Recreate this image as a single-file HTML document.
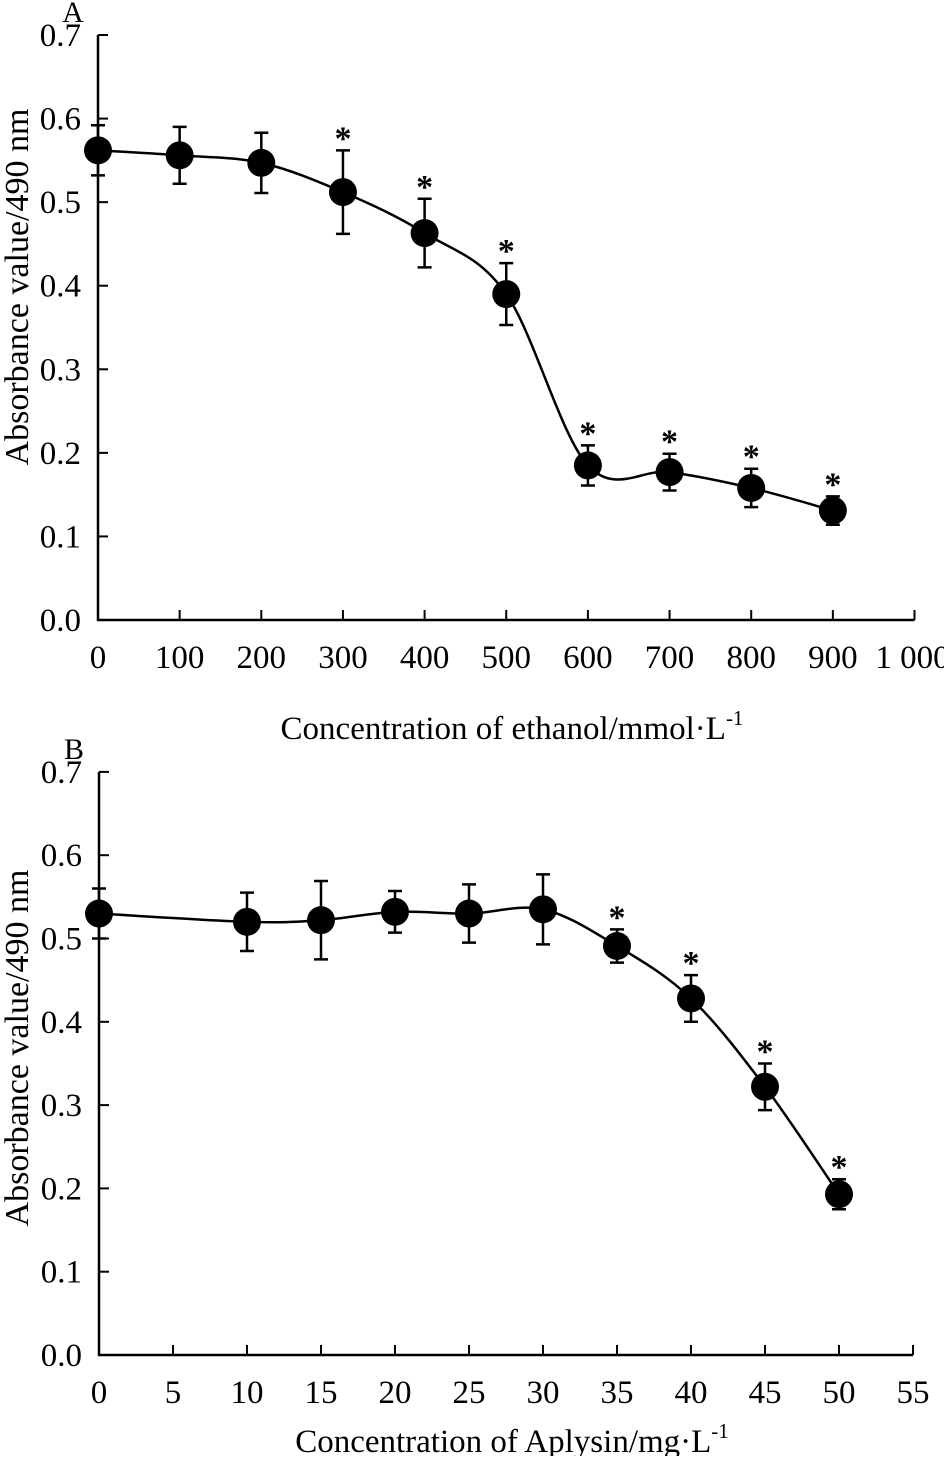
<!DOCTYPE html>
<html><head><meta charset="utf-8"><style>
html,body{margin:0;padding:0;background:#fff}
svg text{font-family:"Liberation Serif",serif;fill:#000}
</style></head><body>
<svg id="svg" width="944" height="1456" xmlns="http://www.w3.org/2000/svg"></svg>
<script>
const aX=[0,100,200,300,400,500,600,700,800,900];
const aY=[0.562,0.556,0.547,0.512,0.463,0.390,0.185,0.177,0.158,0.131];
const aErr=[0.030,0.034,0.036,0.050,0.041,0.037,0.024,0.022,0.023,0.017];
const aStar=[0,0,0,1,1,1,1,1,1,1];
const aXTicks=[0,100,200,300,400,500,600,700,800,900,1000];
const aXTickLabels=["0","100","200","300","400","500","600","700","800","900","1 000"];
const bX=[0,10,15,20,25,30,35,40,45,50];
const bY=[0.530,0.520,0.522,0.532,0.530,0.535,0.491,0.428,0.322,0.193];
const bErr=[0.030,0.035,0.047,0.025,0.035,0.042,0.020,0.028,0.028,0.018];
const bStar=[0,0,0,0,0,0,1,1,1,1];
const bXTicks=[0,5,10,15,20,25,30,35,40,45,50,55];
const yTicks=[0,0.1,0.2,0.3,0.4,0.5,0.6,0.7];

const NS="http://www.w3.org/2000/svg";
const svg=document.getElementById('svg');
function mk(tag,attrs,parent){const e=document.createElementNS(NS,tag);for(const k in attrs)e.setAttribute(k,attrs[k]);(parent||svg).appendChild(e);return e;}

function panel(cfg){
  const g=mk('g',{});
  
  
  const xs=v=>cfg.x0+(v-cfg.xmin)*cfg.xpx;
  const ys=v=>cfg.y0-v*cfg.ypx;
  const top=ys(0.7), right=xs(cfg.xmax);
  const ax=mk('path',{d:`M${cfg.x0},${top}V${cfg.y0}H${right}`,fill:'none',stroke:'#000','stroke-width':2.5},g);
  
  
  yTicks.forEach(t=>{
    const y=ys(t);
    const tk=mk('line',{x1:cfg.x0,x2:cfg.x0+10,y1:y,y2:y,stroke:'#000','stroke-width':2},g);
    
    
    const tl=mk('text',{x:cfg.x0-17,y:y+11,'text-anchor':'end','font-size':33},g);
    tl.textContent=t.toFixed(1);
    
    
  });
  cfg.xTicks.forEach((t,i)=>{
    const x=xs(t);
    const tk=mk('line',{x1:x,x2:x,y1:cfg.y0,y2:cfg.y0-10,stroke:'#000','stroke-width':2},g);
    
    
    const tl=mk('text',{x:x+(cfg.xLabels[i]==="1 000"?-2:0),y:cfg.y0+48,'text-anchor':'middle','font-size':33},g);
    tl.textContent=cfg.xLabels[i];
    
    
  });
  const P=cfg.xv.map((v,i)=>[xs(v),ys(cfg.yv[i])]);
  let d=`M${P[0][0]},${P[0][1]}`;
  for(let i=0;i<P.length-1;i++){
    const p0=P[Math.max(0,i-1)],p1=P[i],p2=P[i+1],p3=P[Math.min(P.length-1,i+2)];
    const c1=[p1[0]+(p2[0]-p0[0])/6,p1[1]+(p2[1]-p0[1])/6];
    const c2=[p2[0]-(p3[0]-p1[0])/6,p2[1]-(p3[1]-p1[1])/6];
    d+=`C${c1[0]},${c1[1]} ${c2[0]},${c2[1]} ${p2[0]},${p2[1]}`;
  }
  const cv=mk('path',{d:d,fill:'none',stroke:'#000','stroke-width':2.5},g);
  
  
  cfg.xv.forEach((v,i)=>{
    const x=xs(v),y=ys(cfg.yv[i]),yt=ys(cfg.yv[i]+cfg.err[i]),yb=ys(cfg.yv[i]-cfg.err[i]);
    const eb=mk('path',{d:`M${x},${yt}V${yb}M${x-7},${yt}H${x+7}M${x-7},${yb}H${x+7}`,stroke:'#000','stroke-width':2.5,fill:'none'},g);
    
    
    const c=mk('circle',{cx:x,cy:y,r:14,fill:'#000'},g);
    
    
    if(cfg.star[i]){
      const s=mk('text',{x:x,y:yt-1,'text-anchor':'middle','font-size':34,'font-weight':'bold'},g);
      s.textContent='*';
      
      
    }
  });
  const lt=mk('text',{x:cfg.x0-25,y:top-13,'text-anchor':'middle','font-size':30},g);
  lt.textContent=cfg.letter;
  
  
  const yl=mk('text',{x:0,y:0,'text-anchor':'middle','font-size':34,transform:`translate(28,${cfg.ylc}) rotate(-90)`},g);
  yl.textContent='Absorbance value/490 nm';
  
  
  const xl=mk('text',{x:cfg.xtx,y:cfg.y0+cfg.xty,'text-anchor':'middle','font-size':33},g);
  xl.innerHTML=cfg.xtitle;
  
  
}
panel({name:'panel-a',letter:'A',x0:98,y0:620,xmin:0,xmax:1000,xpx:0.8165,ypx:835.7,xv:aX,yv:aY,err:aErr,star:aStar,xTicks:aXTicks,xLabels:aXTickLabels,xtx:512,xty:119,ylc:287,
  xtitle:'Concentration of ethanol/mmol·L<tspan dy="-14" font-size="21">-1</tspan>'});
panel({name:'panel-b',letter:'B',x0:99,y0:1355,xmin:0,xmax:55,xpx:14.8,ypx:833,xv:bX,yv:bY,err:bErr,star:bStar,xTicks:bXTicks,xLabels:bXTicks.map(String),xtx:512,xty:97,ylc:1048,
  xtitle:'Concentration of Aplysin/mg·L<tspan dy="-14" font-size="21">-1</tspan>'});
</script>
</body></html>
